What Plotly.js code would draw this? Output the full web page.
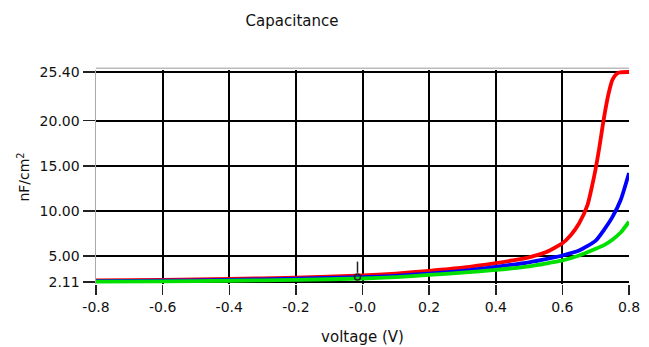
<!DOCTYPE html>
<html>
<head>
<meta charset="utf-8">
<script src="https://cdn.plot.ly/plotly-3.0.1.min.js"></script>
<style>html,body{margin:0;padding:0;background:#fff;}#chart{width:649px;height:347px;}</style>
</head>
<body>
<div id="chart"></div>
<script>
// Data
const voltageRed = [-0.8,-0.6,-0.4,-0.2,0,0.1,0.2,0.3,0.4,0.45,0.5,0.55,0.6,0.625,0.65,0.675,0.69,0.7,0.71,0.72,0.73,0.74,0.75,0.76,0.77,0.8];
const capRed = [2.3,2.35,2.45,2.6,2.85,3.05,3.35,3.7,4.2,4.5,4.85,5.4,6.4,7.3,8.6,10.6,12.9,14.7,16.8,19.2,21.4,23.2,24.5,25.1,25.35,25.4];
const voltage = [-0.8,-0.6,-0.4,-0.2,0,0.1,0.2,0.3,0.4,0.5,0.55,0.6,0.65,0.7,0.725,0.75,0.775,0.8];
const capBlue = [2.2,2.25,2.35,2.48,2.65,2.8,3.05,3.35,3.8,4.3,4.65,5.05,5.6,6.7,7.9,9.3,11.2,14.2];
const capGreen = [2.15,2.18,2.25,2.35,2.5,2.65,2.9,3.15,3.45,3.85,4.15,4.5,5.05,5.8,6.2,6.8,7.6,8.8];
const xTickVals = [-0.8,-0.6,-0.4,-0.2,0,0.2,0.4,0.6,0.8];
const xTickText = ["-0.8","-0.6","-0.4","-0.2","-0.0","0.2","0.4","0.6","0.8"];
const yTickVals = [2.11,5,10,15,20,25.4];
const yTickText = ["2.11","5.00","10.00","15.00","20.00","25.40"];
const cursorX = [-0.015];
const cursorY = [2.66];
const cursorBarY = [3.75];

const font = "DejaVu Sans, Arial, sans-serif";
const lineStyle = (c) => ({color: c, width: 3.8, shape: "spline", smoothing: 0.6});
const traces = [
  {x: voltageRed, y: capRed, mode: "lines", line: lineStyle("#ff0000"), name: "red"},
  {x: voltage, y: capBlue, mode: "lines", line: lineStyle("#0000ff"), name: "blue"},
  {x: voltage, y: capGreen, mode: "lines", line: lineStyle("#00e000"), name: "green"},
  {x: cursorX, y: cursorY, mode: "markers", marker: {symbol: "circle-open", size: 6, color: "#222", line: {width: 1.5}}},
  {x: cursorX, y: cursorBarY, mode: "markers", marker: {symbol: "line-ns-open", size: 8, color: "#222", line: {width: 1.5}}}
];
const layout = {
  width: 649, height: 347,
  margin: {l: 96, r: 20, t: 70, b: 63},
  paper_bgcolor: "#fff", plot_bgcolor: "#fff",
  showlegend: false,
  font: {family: font, color: "#111", size: 14},
  title: {text: "Capacitance", font: {family: font, size: 15, color: "#111"}, x: 0.45, xanchor: "center", xref: "container", y: 0.94, yanchor: "middle", yref: "container"},
  xaxis: {
    range: [-0.8, 0.8], tickvals: xTickVals, ticktext: xTickText,
    showgrid: true, gridcolor: "#000", gridwidth: 2, zeroline: false,
    showline: false, ticks: "outside", ticklen: 10, tickwidth: 1.5, tickcolor: "#222",
    tickfont: {family: font, size: 14, color: "#111"},
    title: {text: "voltage (V)", font: {family: font, size: 15, color: "#111"}, standoff: 17}
  },
  yaxis: {
    range: [1.89, 25.62], tickvals: yTickVals, ticktext: yTickText,
    showgrid: true, gridcolor: "#000", gridwidth: 2, zeroline: false,
    showline: true, linecolor: "#aaa", linewidth: 1.5,
    ticks: "outside", ticklen: 12, tickwidth: 1.5, tickcolor: "#222",
    tickfont: {family: font, size: 14, color: "#111"},
    title: {text: "nF/cm<sup>2</sup>", font: {family: font, size: 14, color: "#111"}, standoff: 6}
  },
  shapes: [{type: "line", xref: "paper", yref: "paper", x0: 0, x1: 1, y0: 1.008, y1: 1.008, line: {color: "#bbb", width: 1.5}}]
};
Plotly.newPlot("chart", traces, layout, {displayModeBar: false, staticPlot: true});
</script>
</body>
</html>
